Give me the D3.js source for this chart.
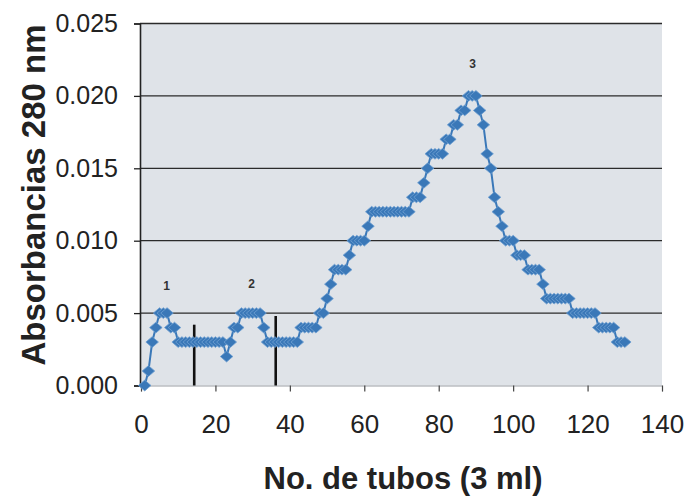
<!DOCTYPE html>
<html>
<head>
<meta charset="utf-8">
<script src="https://cdn.jsdelivr.net/npm/d3@7"></script>
<style>
  html, body { margin: 0; padding: 0; background: #ffffff; }
  svg { display: block; }
</style>
</head>
<body>
<svg id="chart" width="693" height="498"></svg>
<script>
// ---- Data ----
const tubes = [
  1,2,3,4,5,6,7,8,9,10,11,12,13,14,15,16,17,18,19,20,
  21,22,23,24,25,26,27,28,29,30,31,32,33,34,35,36,37,38,39,40,
  41,42,43,44,45,46,47,48,49,50,51,52,53,54,55,56,57,58,59,60,
  61,62,63,64,65,66,67,68,69,70,71,72,73,74,75,76,77,78,79,80,
  81,82,83,84,85,86,87,88,89,90,91,92,93,94,95,96,97,98,99,100,
  101,102,103,104,105,106,107,108,109,110,111,112,113,114,115,116,117,118,119,120,
  121,122,123,124,125,126,127,128,129,130
];
const absorbance = [
  0.000,0.001,0.003,0.004,0.005,0.005,0.005,0.004,0.004,0.003,
  0.003,0.003,0.003,0.003,0.003,0.003,0.003,0.003,0.003,0.003,
  0.003,0.003,0.002,0.003,0.004,0.004,0.005,0.005,0.005,0.005,
  0.005,0.005,0.004,0.003,0.003,0.003,0.003,0.003,0.003,0.003,
  0.003,0.003,0.004,0.004,0.004,0.004,0.004,0.005,0.005,0.006,
  0.007,0.008,0.008,0.008,0.008,0.009,0.010,0.010,0.010,0.010,
  0.011,0.012,0.012,0.012,0.012,0.012,0.012,0.012,0.012,0.012,
  0.012,0.012,0.013,0.013,0.013,0.014,0.015,0.016,0.016,0.016,
  0.016,0.017,0.017,0.018,0.018,0.019,0.019,0.020,0.020,0.020,
  0.019,0.018,0.016,0.015,0.013,0.012,0.011,0.010,0.010,0.010,
  0.009,0.009,0.009,0.008,0.008,0.008,0.008,0.007,0.006,0.006,
  0.006,0.006,0.006,0.006,0.006,0.005,0.005,0.005,0.005,0.005,
  0.005,0.005,0.004,0.004,0.004,0.004,0.004,0.003,0.003,0.003
];
const xTicks = [0, 20, 40, 60, 80, 100, 120, 140];
const yTicks = [0.000, 0.005, 0.010, 0.015, 0.020, 0.025];
const peakLabels = ["1", "2", "3"];
const peakX = [6.9, 29.7, 89.1];
const peakY = [0.0069, 0.0070, 0.0222];
const cutX = [14.3, 36.2];
const cutTop = [0.0042, 0.0048];
const xTitle = "No. de tubos (3 ml)";
const yTitle = "Absorbancias 280 nm";

// ---- Drawing ----
const svg = d3.select("#chart");
const x = d3.scaleLinear().domain([0, 140]).range([141, 662]);
const y = d3.scaleLinear().domain([0, 0.025]).range([385.5, 23.5]);

const [x0, x1] = x.range();
const [yb, yt] = y.range();

// plot area background
svg.append("rect")
  .attr("x", 140).attr("y", yt)
  .attr("width", x1 - 140).attr("height", yb - yt)
  .attr("fill", "#dfe3e8");

// horizontal gridlines
svg.append("g").selectAll("line")
  .data(yTicks.filter(d => d > 0))
  .join("line")
  .attr("x1", 140).attr("x2", x1)
  .attr("y1", d => y(d)).attr("y2", d => y(d))
  .attr("stroke", "#2b2b2b").attr("stroke-width", 1.3);

// y axis
const yAxis = d3.axisLeft(y).tickValues(yTicks).tickFormat(d3.format(".3f")).tickSize(6).tickPadding(16);
const gy = svg.append("g").attr("transform", "translate(140,0)").call(yAxis);
gy.select(".domain").attr("stroke", "#222").attr("stroke-width", 1.6);
gy.selectAll(".tick line").attr("stroke", "#222").attr("stroke-width", 1.3);
gy.selectAll(".tick text")
  .attr("font-family", "'Liberation Sans', Arial, sans-serif")
  .attr("font-size", 25).attr("fill", "#222");

// x axis
const xAxis = d3.axisBottom(x).tickValues(xTicks).tickFormat(d3.format("d")).tickSize(6).tickPadding(23);
const gx = svg.append("g").attr("transform", `translate(0,${yb})`).call(xAxis);
gx.select(".domain").attr("stroke", "#9a9ea4").attr("stroke-width", 1);
gx.selectAll(".tick line").attr("stroke", "#444").attr("stroke-width", 1.2);
gx.selectAll(".tick text")
  .attr("font-family", "'Liberation Sans', Arial, sans-serif")
  .attr("font-size", 26).attr("fill", "#222");

// cut lines
svg.append("g").selectAll("line")
  .data(cutX)
  .join("line")
  .attr("x1", d => x(d)).attr("x2", d => x(d))
  .attr("y1", (d, i) => y(cutTop[i])).attr("y2", yb)
  .attr("stroke", "#111").attr("stroke-width", 2.6);

// series line
const pts = tubes.map((t, i) => [t, absorbance[i]]);
svg.append("path")
  .datum(pts)
  .attr("fill", "none")
  .attr("stroke", "#3a78b8")
  .attr("stroke-width", 2)
  .attr("d", d3.line().x(d => x(d[0])).y(d => y(d[1])));

// diamond markers (slightly wider than tall, as in the picture)
const wideDiamond = {
  draw(ctx, size) {
    const w = Math.sqrt(size) * 0.72, h = w * 0.86;
    ctx.moveTo(0, -h); ctx.lineTo(w, 0); ctx.lineTo(0, h); ctx.lineTo(-w, 0); ctx.closePath();
  }
};
const diamond = d3.symbol().type(wideDiamond).size(76);
svg.append("g").selectAll("path")
  .data(pts)
  .join("path")
  .attr("d", diamond)
  .attr("transform", d => `translate(${x(d[0])},${y(d[1])})`)
  .attr("fill", "#3a78b8")
  .attr("stroke", "#6f9fd2")
  .attr("stroke-width", 0.8);

// peak labels
svg.append("g").selectAll("text")
  .data(peakLabels)
  .join("text")
  .attr("x", (d, i) => x(peakX[i]))
  .attr("y", (d, i) => y(peakY[i]))
  .attr("text-anchor", "middle")
  .attr("dominant-baseline", "central")
  .attr("font-family", "'Liberation Sans', Arial, sans-serif")
  .attr("font-size", 12).attr("font-weight", "bold")
  .attr("fill", "#333")
  .text(d => d);

// axis titles
svg.append("text")
  .attr("x", 403).attr("y", 489)
  .attr("text-anchor", "middle")
  .attr("font-family", "'Liberation Sans', Arial, sans-serif")
  .attr("font-size", 31).attr("font-weight", "bold")
  .attr("fill", "#222")
  .text(xTitle);

svg.append("text")
  .attr("transform", "translate(45,195) rotate(-90)")
  .attr("text-anchor", "middle")
  .attr("font-family", "'Liberation Sans', Arial, sans-serif")
  .attr("font-size", 33).attr("font-weight", "bold")
  .attr("fill", "#222")
  .text(yTitle);
</script>
</body>
</html>
